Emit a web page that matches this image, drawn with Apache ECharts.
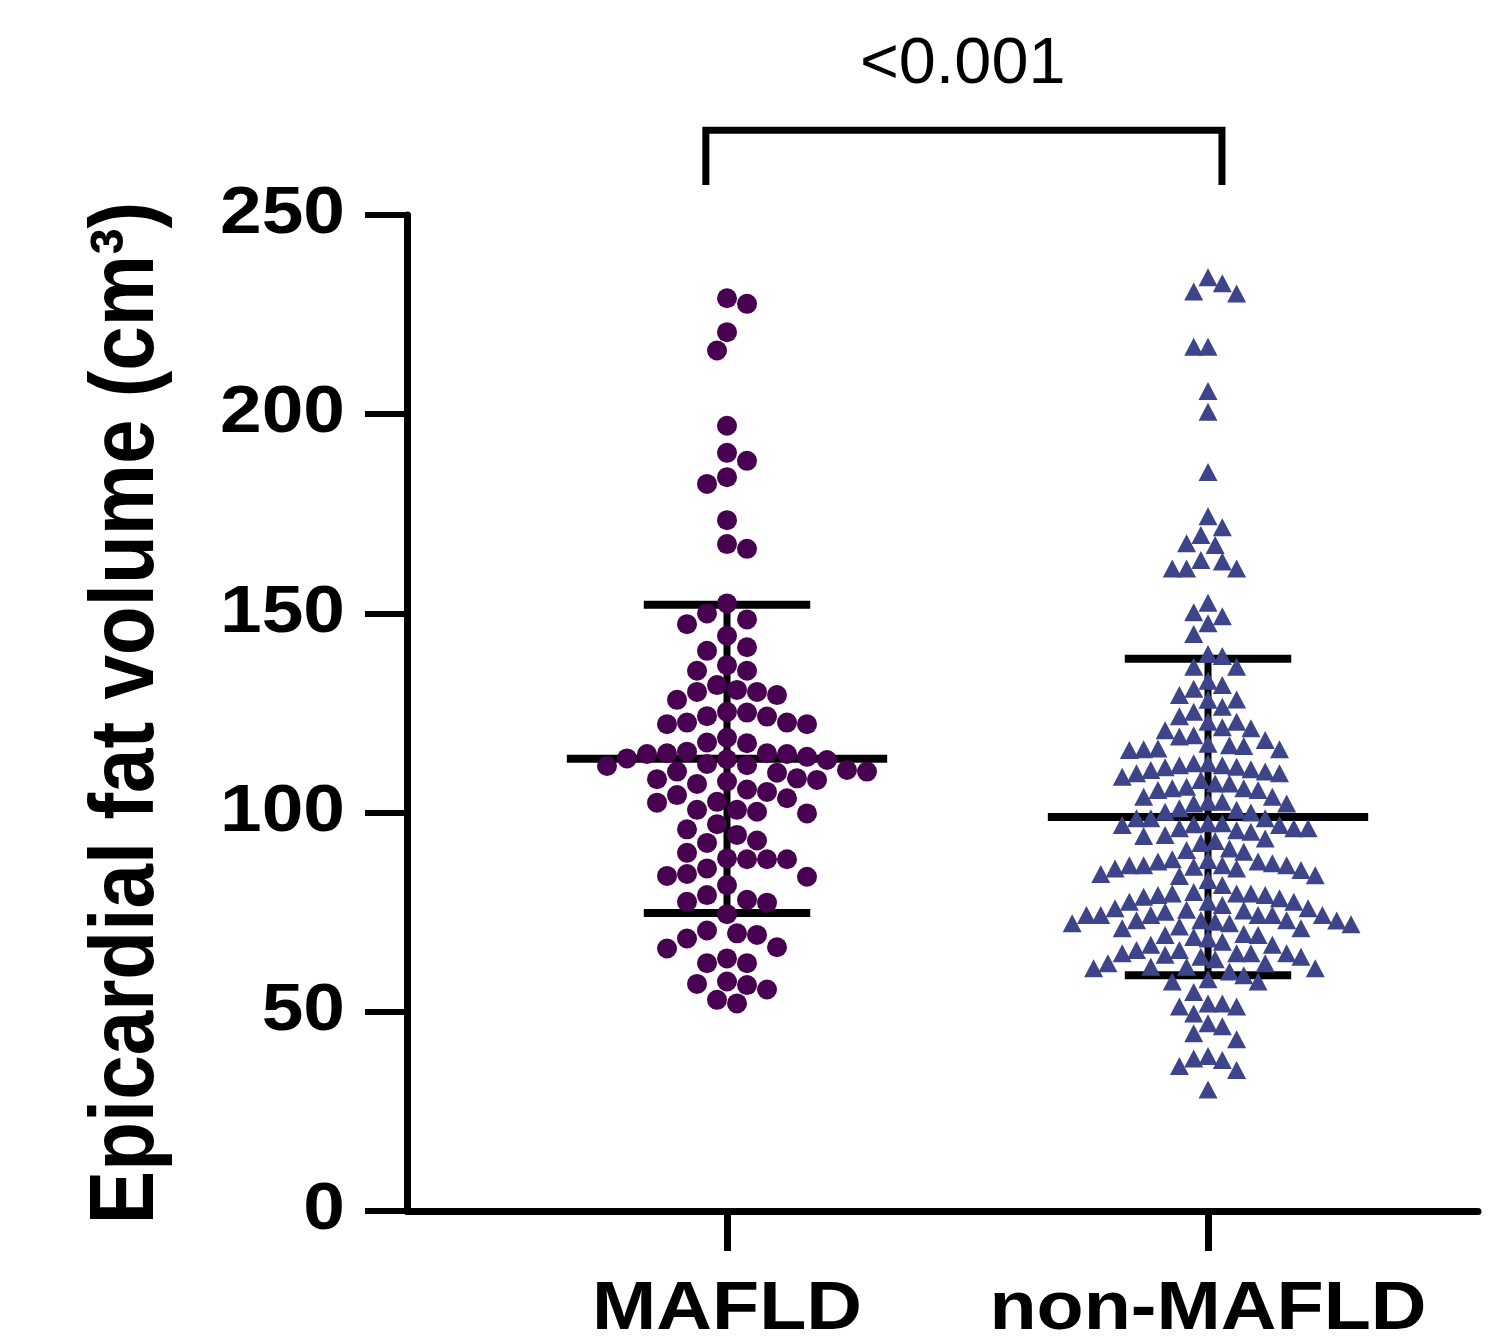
<!DOCTYPE html>
<html><head><meta charset="utf-8">
<script src="https://cdn.jsdelivr.net/npm/echarts@6/dist/echarts.min.js"></script>
<style>html,body{margin:0;padding:0;background:#fff}#c{width:1492px;height:1340px}</style>
</head><body><div id="c"></div>
<script>
// ---------------- data ----------------
const categories = ['MAFLD', 'non-MAFLD'];
const yTickLabels = ['0', '50', '100', '150', '200', '250'];
const yAxisTitle = 'Epicardial fat volume (cm³)';
const pValueLabel = '<0.001';

const mafldValues = [
  229.1, 227.7, 220.6, 216.0, 197.1, 190.3, 188.3, 184.2, 182.5, 173.4, 166.2, 167.4,
  152.5, 150.0, 148.5, 147.3, 144.4, 141.5, 140.6, 135.6, 135.6, 137.0, 130.3, 130.8,
  130.3, 132.0, 128.3, 129.5, 125.3, 124.2, 122.6, 122.2, 122.6, 125.1, 124.1, 122.2,
  118.8, 117.6, 115.3, 117.4, 114.9, 114.9, 114.7, 114.7, 113.6, 113.2, 111.9, 113.4,
  114.0, 112.2, 110.3, 110.3, 111.7, 110.7, 110.0, 108.6, 108.4, 107.8, 108.2, 107.2,
  105.8, 105.2, 104.4, 103.6, 102.7, 102.5, 100.7, 100.7, 100.2, 99.8, 97.1, 95.8,
  93.0, 94.4, 92.4, 89.9, 88.3, 88.5, 88.3, 88.3, 86.0, 84.1, 84.6, 83.9, 81.8, 79.3,
  78.1, 77.4, 77.6, 74.5, 70.4, 65.9, 66.2, 68.4, 69.7, 69.3, 62.2, 63.4, 62.2, 57.6,
  55.6, 57.0, 56.7, 53.0, 52.1
];

const nonMafldValues = [
  232.9, 234.4, 230.8, 230.3, 216.9, 216.9, 205.8, 200.6, 185.5, 174.4, 171.6, 169.7,
  167.6, 167.2, 161.3, 161.3, 163.0, 161.3, 163.4, 152.7, 150.3, 149.3, 147.5, 144.8,
  139.3, 139.8,
  136.6, 136.6, 133.1, 132.0, 131.1, 129.5, 128.3, 126.6, 128.4, 125.3, 124.2, 122.8,
  122.8, 120.7, 121.4, 121.2, 119.1, 119.4, 118.2, 115.9, 115.9, 116.1, 116.7, 115.7,
  116.9, 117.3,
  110.9, 109.0, 110.7, 110.3, 112.4, 109.9, 109.9, 111.9, 111.9, 111.4, 112.4, 111.5,
  108.2, 105.7, 106.1, 107.3, 104.0, 105.7, 106.5, 106.1, 107.3, 104.0, 102.7, 102.3,
  102.3, 102.7, 100.0, 100.7, 100.2, 101.1,
  97.1, 97.3, 96.9, 95.6, 98.6, 96.1, 96.1, 98.6, 94.1, 97.3, 95.2, 94.4, 96.9, 98.6,
  96.1, 93.5,
  92.4, 90.6, 92.9, 91.0, 90.2, 88.3,
  86.8, 86.8, 87.3, 86.0, 88.1, 87.7, 85.6, 84.3, 87.7, 86.8, 86.8, 86.4, 86.0, 84.6,
  83.1, 84.1,
  81.8, 80.1, 79.3, 79.3, 79.7, 79.7, 79.7, 78.9, 77.6, 78.5, 77.6, 77.6,
  75.4, 76.8, 76.0, 74.3, 74.3, 74.3, 74.3, 74.3, 73.0, 72.9, 76.0, 73.0, 72.6, 72.0,
  72.2, 75.1, 72.2, 74.3, 73.0, 75.6,
  71.4, 71.0, 71.0, 69.3, 69.5, 68.8, 67.6, 69.3, 68.4, 66.8, 66.8,
  64.3, 63.2, 62.2, 65.5, 63.8, 65.5, 64.7, 64.7, 64.7, 63.8, 64.7, 62.2, 61.3, 60.9,
  61.3,
  60.9, 60.1, 59.2, 58.2,
  57.6, 57.6, 55.0,
  51.3, 49.6, 52.1, 52.1, 51.3,
  46.4, 47.1, 44.6, 43.1,
  38.9, 37.9, 38.3, 36.4, 35.4,
  30.5
];

const groupMeans = [113.5, 98.9];
const groupSDs = [38.7, 39.7];

// ---------------- chart ----------------
const FONT = '"Liberation Sans", Arial, sans-serif';
const STRETCH = 1.135;
const chart = echarts.init(document.getElementById('c'), null, { renderer: 'canvas' });

const statsData = categories.map((c, i) => [i + 1, groupMeans[i], groupSDs[i]]);

function renderStats(params, api) {
  const g = api.value(0), m = api.value(1), s = api.value(2);
  const line = (x1, y1, x2, y2, w) => {
    const a = api.coord([x1, y1]), b = api.coord([x2, y2]);
    return { type: 'line', shape: { x1: a[0], y1: a[1], x2: b[0], y2: b[1] },
             style: { stroke: '#000', lineWidth: w, lineCap: 'butt' } };
  };
  return { type: 'group', children: [
    line(g, m - s, g, m + s, 7),
    line(g - 0.333, m, g + 0.333, m, 8),
    line(g - 0.173, m + s, g + 0.173, m + s, 8),
    line(g - 0.173, m - s, g + 0.173, m - s, 8)
  ]};
}

const baseOption = {
  animation: false,
  backgroundColor: '#ffffff',
  grid: { left: 407, right: 14, top: 215, bottom: 129 },
  xAxis: {
    type: 'value', min: 0.3347, max: 2.5613,
    axisLine: { show: true, onZero: false, lineStyle: { color: '#000', width: 7 } },
    axisTick: { show: true, customValues: [1, 2], length: 40, lineStyle: { color: '#000', width: 7 } },
    axisLabel: { show: false },
    splitLine: { show: false }
  },
  yAxis: {
    type: 'value', min: 0, max: 250, interval: 50,
    axisLine: { show: true, lineStyle: { color: '#000', width: 7 } },
    axisTick: { show: true, length: 42, lineStyle: { color: '#000', width: 6 } },
    axisLabel: { show: false },
    splitLine: { show: false }
  },
  series: [
    { type: 'custom', name: 'stats', renderItem: renderStats, data: statsData, z: 1, clip: false, silent: true },
    { type: 'scatter', name: categories[0], symbol: 'circle', symbolSize: 20,
      itemStyle: { color: '#480050', opacity: 1 }, data: [], z: 2 },
    { type: 'scatter', name: categories[1], symbol: 'triangle', symbolSize: [19, 18],
      itemStyle: { color: '#3d4489', opacity: 1 }, data: [], z: 2 }
  ]
};
chart.setOption(baseOption);

// beeswarm layout computed from library scales
const p0 = chart.convertToPixel({ gridIndex: 0 }, [1, 0]);
const p1 = chart.convertToPixel({ gridIndex: 0 }, [2, 100]);
const pxPerX = p1[0] - p0[0];
const pxPerY = (p0[1] - p1[1]) / 100;

function swarm(values, group, sx, sy) {
  const sorted = values.slice().sort((a, b) => b - a);
  const placed = [];
  const out = [];
  let flip = 1;
  for (const v of sorted) {
    const y = v * pxPerY;
    let chosen = null;
    for (let k = 0; k < 400 && chosen === null; k++) {
      const cands = k === 0 ? [0] : [flip * k * sx / 2, -flip * k * sx / 2];
      for (const x of cands) {
        let ok = true;
        for (const p of placed) {
          const dx = (x - p[0]) / sx, dy = (y - p[1]) / sy;
          if (dx * dx + dy * dy < 0.999) { ok = false; break; }
        }
        if (ok) { chosen = x; break; }
      }
    }
    if (chosen !== 0) flip = -flip;
    placed.push([chosen, y]);
    out.push([group + chosen / pxPerX, v]);
  }
  return out;
}

const mafldPts = swarm(mafldValues, 1, 20, 21);
const nonPts = swarm(nonMafldValues, 2, 14.3, 19);

// text & annotation graphics
const graphics = [];
yTickLabels.forEach(t => {
  const py = chart.convertToPixel({ yAxisIndex: 0 }, Number(t));
  graphics.push({ type: 'text', x: 345, y: py, scaleX: STRETCH, silent: true,
    style: { text: t, fill: '#000', font: 'bold 66px ' + FONT,
      align: 'right', textAlign: 'right', verticalAlign: 'middle', textVerticalAlign: 'middle' } });
});
categories.forEach((c, i) => {
  const px = chart.convertToPixel({ xAxisIndex: 0 }, i + 1);
  graphics.push({ type: 'text', x: px, y: 1310, scaleX: STRETCH, silent: true,
    style: { text: c, fill: '#000', font: 'bold 68px ' + FONT,
      align: 'center', textAlign: 'center', verticalAlign: 'middle', textVerticalAlign: 'middle' } });
});
const midY = (chart.convertToPixel({ yAxisIndex: 0 }, 0) + chart.convertToPixel({ yAxisIndex: 0 }, 250)) / 2;
graphics.push({ type: 'text', x: 128, y: midY, rotation: Math.PI / 2, scaleY: STRETCH, silent: true,
  style: { text: yAxisTitle, fill: '#000', font: 'bold 80px ' + FONT,
    align: 'center', textAlign: 'center', verticalAlign: 'middle', textVerticalAlign: 'middle' } });

// significance bracket
const bl = chart.convertToPixel({ gridIndex: 0 }, [0.956, 257.5]);
const bt = chart.convertToPixel({ gridIndex: 0 }, [0.956, 271.3]);
const br = chart.convertToPixel({ gridIndex: 0 }, [2.029, 271.3]);
const bb = chart.convertToPixel({ gridIndex: 0 }, [2.029, 257.5]);
graphics.push({ type: 'polyline', silent: true,
  shape: { points: [bl, bt, br, bb] },
  style: { stroke: '#000', lineWidth: 7, fill: null, lineJoin: 'miter', lineCap: 'butt' } });
const pp = chart.convertToPixel({ gridIndex: 0 }, [1.49, 287.6]);
graphics.push({ type: 'text', x: pp[0], y: pp[1], scaleX: 1.04, silent: true,
  style: { text: pValueLabel, fill: '#000', font: '64px ' + FONT,
    align: 'center', textAlign: 'center', verticalAlign: 'middle', textVerticalAlign: 'middle' } });

chart.setOption({
  series: [{}, { data: mafldPts }, { data: nonPts }],
  graphic: { elements: graphics }
});
</script>
</body></html>
